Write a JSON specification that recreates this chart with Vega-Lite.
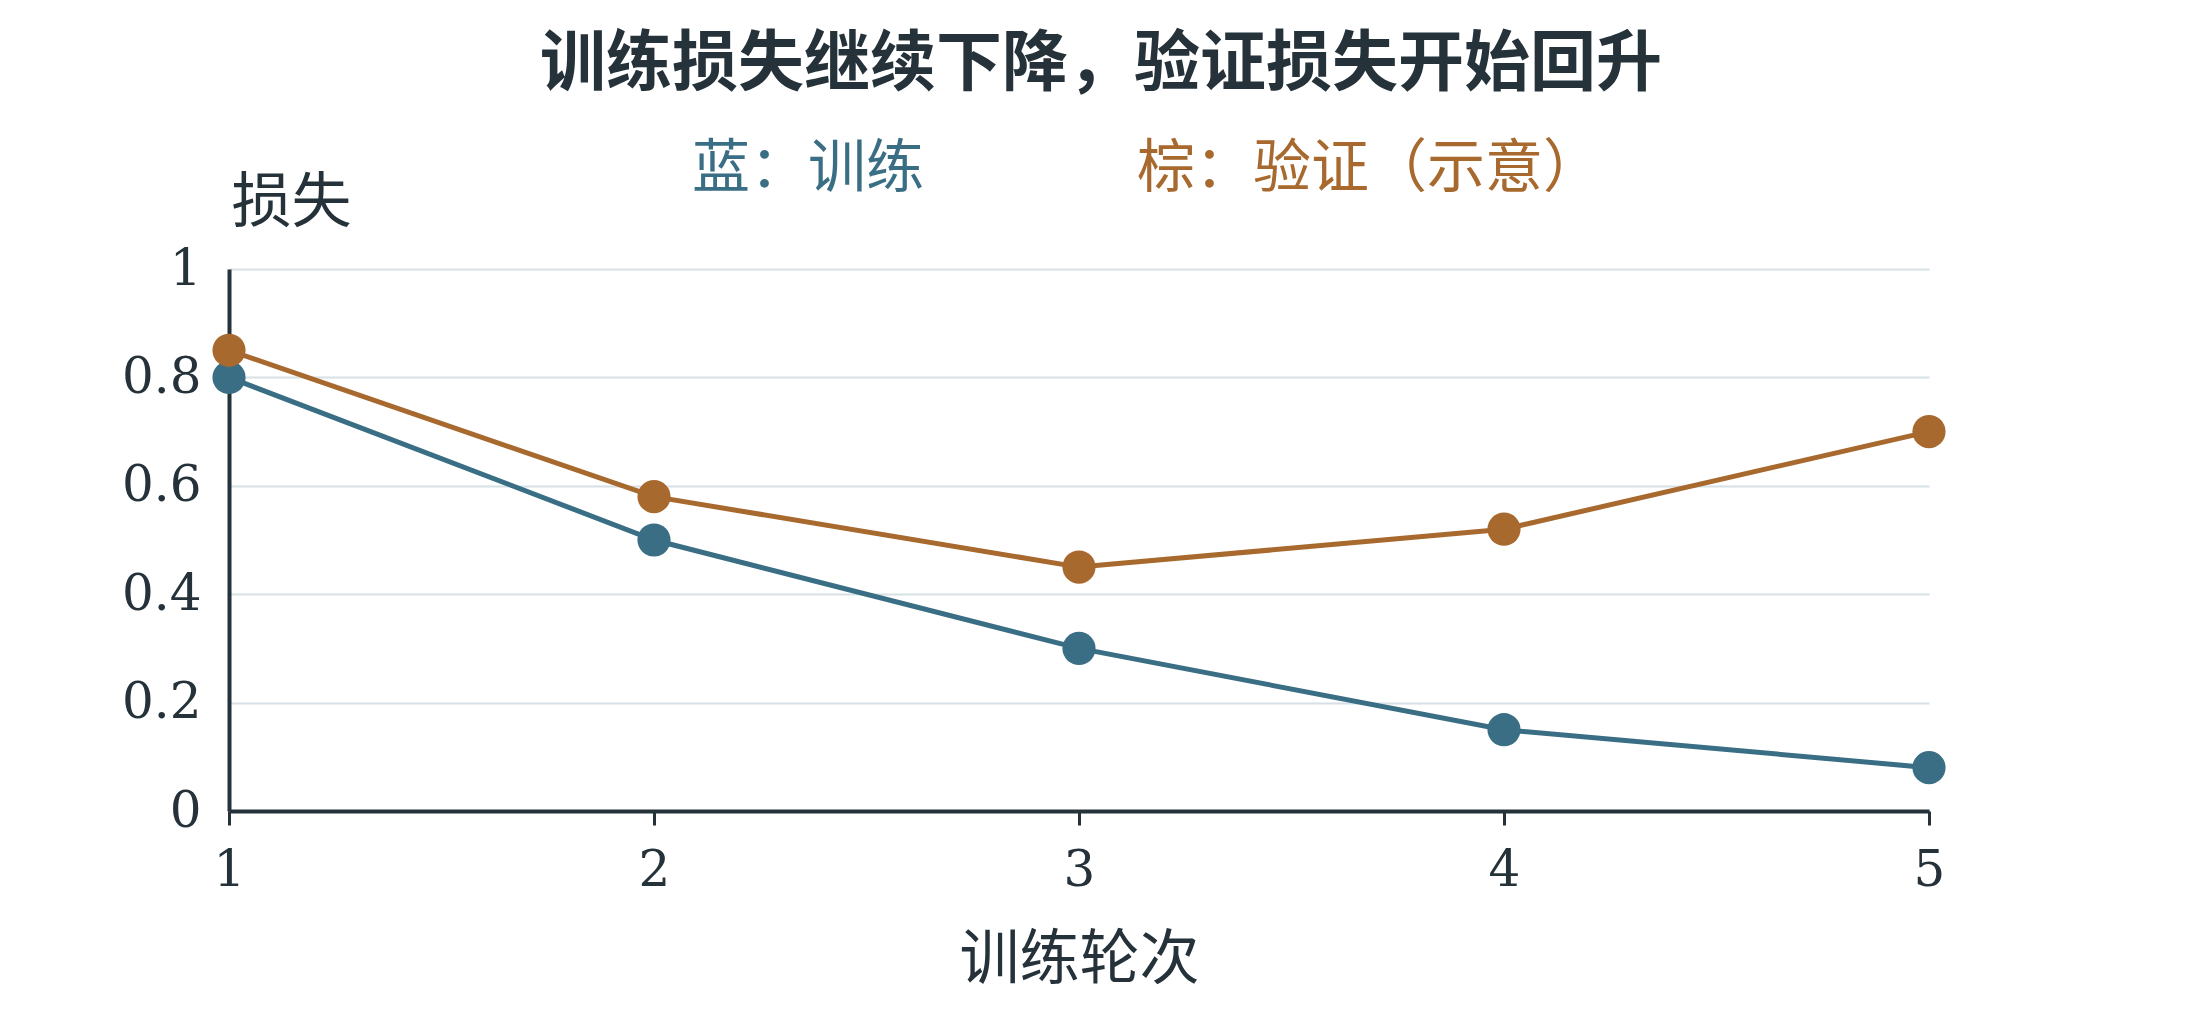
{
  "$schema": "https://vega.github.io/schema/vega-lite/v6.json",
  "width": 1700,
  "height": 542,
  "autosize": "none",
  "padding": {"left": 229, "top": 269, "right": 271, "bottom": 209},
  "background": "#ffffff",
  "title": {
    "text": "训练损失继续下降，验证损失开始回升",
    "font": "Noto Sans CJK SC",
    "fontSize": 66,
    "fontWeight": "bold",
    "color": "#25323a",
    "anchor": "middle",
    "dx": 22,
    "offset": 42
  },
  "data": {
    "values": [
      {"epoch": 1, "loss": 0.80, "series": "训练"},
      {"epoch": 2, "loss": 0.50, "series": "训练"},
      {"epoch": 3, "loss": 0.30, "series": "训练"},
      {"epoch": 4, "loss": 0.15, "series": "训练"},
      {"epoch": 5, "loss": 0.08, "series": "训练"},
      {"epoch": 1, "loss": 0.85, "series": "验证"},
      {"epoch": 2, "loss": 0.58, "series": "验证"},
      {"epoch": 3, "loss": 0.45, "series": "验证"},
      {"epoch": 4, "loss": 0.52, "series": "验证"},
      {"epoch": 5, "loss": 0.70, "series": "验证"}
    ]
  },
  "mark": {
    "type": "line",
    "strokeWidth": 5,
    "point": {"filled": true, "size": 1100, "opacity": 1}
  },
  "encoding": {
    "x": {
      "field": "epoch",
      "type": "quantitative",
      "scale": {"domain": [1, 5], "nice": false, "zero": false},
      "axis": {
        "title": "训练轮次",
        "values": [1, 2, 3, 4, 5],
        "format": "d",
        "grid": false,
        "labelFlush": false,
        "domainColor": "#25323a",
        "domainWidth": 4,
        "tickColor": "#25323a",
        "tickWidth": 3,
        "tickSize": 14,
        "labelFont": "DejaVu Serif",
        "labelFontSize": 50,
        "labelColor": "#25323a",
        "labelPadding": 20,
        "titleFont": "Noto Sans CJK SC",
        "titleFontSize": 60,
        "titleFontWeight": "normal",
        "titleColor": "#25323a",
        "titlePadding": 36
      }
    },
    "y": {
      "field": "loss",
      "type": "quantitative",
      "scale": {"domain": [0, 1], "nice": false},
      "axis": {
        "title": "损失",
        "values": [0, 0.2, 0.4, 0.6, 0.8, 1],
        "format": "~g",
        "grid": true,
        "gridColor": "#d6e0e6",
        "gridWidth": 2,
        "ticks": false,
        "domainColor": "#25323a",
        "domainWidth": 4,
        "labelFont": "DejaVu Serif",
        "labelFontSize": 50,
        "labelColor": "#25323a",
        "labelPadding": 28,
        "titleFont": "Noto Sans CJK SC",
        "titleFontSize": 60,
        "titleFontWeight": "normal",
        "titleColor": "#25323a",
        "titleAngle": 0,
        "titleAlign": "left",
        "titleBaseline": "middle",
        "titleX": 2,
        "titleY": -66
      }
    },
    "color": {
      "field": "series",
      "type": "nominal",
      "scale": {"domain": ["训练", "验证"], "range": ["#3a6e85", "#a8692f"]},
      "legend": {
        "title": null,
        "orient": "none",
        "legendX": 405,
        "legendY": -128,
        "direction": "horizontal",
        "columns": 2,
        "columnPadding": 154,
        "symbolSize": 0,
        "symbolStrokeWidth": 0,
        "symbolOpacity": 0,
        "labelOffset": 0,
        "labelFont": "Noto Sans CJK SC",
        "labelFontSize": 58,
        "labelLimit": 0,
        "labelExpr": "datum.value == '训练' ? '蓝：训练' : '棕：验证（示意）'",
        "encode": {
          "labels": {
            "update": {
              "fill": {"signal": "datum.value == '训练' ? '#3a6e85' : '#a8692f'"}
            }
          }
        }
      }
    }
  },
  "config": {
    "view": {"stroke": null}
  }
}
